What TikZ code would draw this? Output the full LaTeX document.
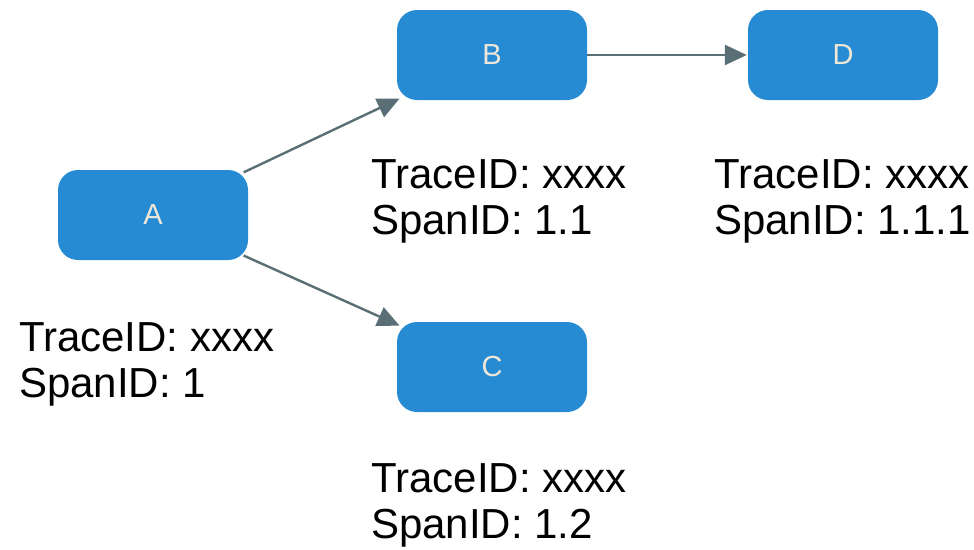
\documentclass[tikz,border=0pt]{standalone}
\usepackage{fontspec}
\setmainfont{Liberation Sans}
\usetikzlibrary{arrows.meta}
\definecolor{boxblue}{HTML}{278BD4}
\definecolor{boxtext}{HTML}{EFE8D8}
\definecolor{arrowgrey}{HTML}{5A6E75}
\begin{document}
\begin{tikzpicture}[x=1pt,y=-1pt,
  svc/.style={rectangle, rounded corners=20pt, fill=boxblue, draw=none,
    minimum width=190pt, minimum height=90pt, inner sep=0pt,
    text=boxtext, font=\fontsize{29}{32}\selectfont},
  info/.style={anchor=north west, inner sep=0pt, align=left,
    font=\fontsize{42}{46}\selectfont, text=black},
  conn/.style={draw=arrowgrey, line width=2.4pt,
    -{Triangle[length=22pt,width=20pt]}}]
\useasboundingbox (0,0) rectangle (974,549);
\node[svc] (A) at (153,215) {A};
\node[svc] (B) at (492,55) {B};
\node[svc] (C) at (492,367) {C};
\node[svc] (D) at (843,55) {D};
\node[info] (la) at (19,322) {TraceID: xxxx\\SpanID: 1};
\node[info] (lb) at (371,159) {TraceID: xxxx\\SpanID: 1.1};
\node[info] (lc) at (371,463) {TraceID: xxxx\\SpanID: 1.2};
\node[info] (ld) at (714,159) {TraceID: xxxx\\SpanID: 1.1.1};
\draw[conn, shorten <=-5pt, shorten >=-3pt] (A) -- (B);
\draw[conn, shorten <=-5pt, shorten >=-3pt] (A) -- (C);
\draw[conn, shorten >=1pt] (B) -- (D);
\end{tikzpicture}
\end{document}
